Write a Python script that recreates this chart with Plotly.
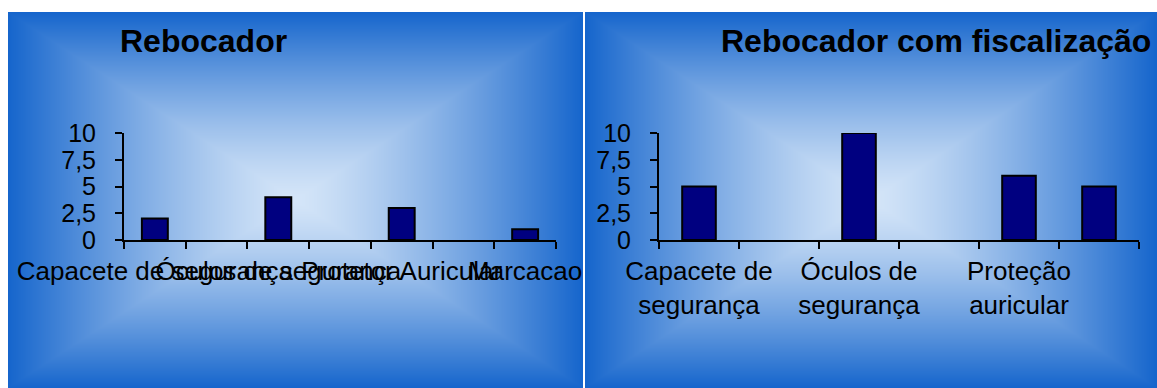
import base64
import struct
import zlib

import numpy as np
import plotly.graph_objects as go

# ---------------- data ----------------
left_title = "Rebocador"
left_categories = ["Capacete de segurança", " ", "Óculos de segurança", "  ",
                   "Protetor Auricular", "   ", "Marcacao"]
left_values = [2, None, 4, None, 3, None, 1]

right_title = "Rebocador com fiscalização"
right_categories = ["Capacete de<br>segurança", " ", "Óculos de<br>segurança", "  ",
                    "Proteção<br>auricular", "Marcação"]
right_values = [5, None, 10, None, 6, 5]

y_ticks = [0, 2.5, 5, 7.5, 10]

# ---------------- background (box gradient panels) ----------------
W, H = 1157, 388
EDGE = np.array([21, 101, 204], dtype=float)
CENTER = np.array([212, 229, 248], dtype=float)
GAMMA = 1.3

img = np.full((H, W, 3), 255.0)


def paint_panel(x0, x1, y0, y1):
    cx, cy = (x0 + x1) / 2.0, (y0 + y1) / 2.0
    xs = np.arange(x0, x1) + 0.5
    ys = np.arange(y0, y1) + 0.5
    X, Y = np.meshgrid(xs, ys)
    t = np.maximum(np.abs(X - cx) / ((x1 - x0) / 2.0), np.abs(Y - cy) / ((y1 - y0) / 2.0))
    t = np.clip(t, 0, 1) ** GAMMA
    img[y0:y1, x0:x1] = CENTER * (1 - t)[..., None] + EDGE * t[..., None]


paint_panel(8, 583, 12, 388)
paint_panel(585, 1157, 12, 388)
arr = np.clip(np.round(img), 0, 255).astype(np.uint8)


def png_bytes(a):
    h, w, _ = a.shape
    raw = b"".join(b"\x00" + a[r].tobytes() for r in range(h))

    def chunk(tag, data):
        return (struct.pack(">I", len(data)) + tag + data
                + struct.pack(">I", zlib.crc32(tag + data) & 0xFFFFFFFF))

    return (b"\x89PNG\r\n\x1a\n"
            + chunk(b"IHDR", struct.pack(">IIBBBBB", w, h, 8, 2, 0, 0, 0))
            + chunk(b"IDAT", zlib.compress(raw, 9))
            + chunk(b"IEND", b""))


bg_src = "data:image/png;base64," + base64.b64encode(png_bytes(arr)).decode()

# ---------------- figure ----------------
FONT = "Liberation Sans, Arial, sans-serif"
fig = go.Figure()

bar_style = dict(marker=dict(color="#000080", line=dict(color="black", width=2)),
                 showlegend=False, hoverinfo="x+y")
fig.add_trace(go.Bar(x=left_categories, y=left_values, xaxis="x", yaxis="y", **bar_style))
fig.add_trace(go.Bar(x=right_categories, y=right_values, xaxis="x2", yaxis="y2", **bar_style))

y_dom = [(388 - 240) / 388, (388 - 133) / 388]
xax = dict(showline=True, linecolor="black", linewidth=2, ticks="outside", ticklen=7,
           tickwidth=2, tickcolor="black", tickangle=0, tickson="boundaries",
           ticklabelstep=2, showgrid=False, zeroline=False, ticklabelstandoff=7,
           tickfont=dict(family=FONT, size=26, color="black"))
yax = dict(range=[0, 10], tickvals=y_ticks, showline=True, linecolor="black", linewidth=2,
           ticks="outside", ticklen=7, tickwidth=2, tickcolor="black", showgrid=False,
           zeroline=False, ticklabelstandoff=14,
           tickfont=dict(family=FONT, size=25, color="black"))

fig.update_layout(
    width=W, height=H, margin=dict(l=0, r=0, t=0, b=0),
    template="none", separators=",.",
    paper_bgcolor="white", plot_bgcolor="rgba(0,0,0,0)",
    bargap=0.58,
    xaxis=dict(domain=[124 / W, 556 / W], anchor="y", **xax),
    yaxis=dict(domain=y_dom, anchor="x", **yax),
    xaxis2=dict(domain=[659 / W, 1139 / W], anchor="y2", **xax),
    yaxis2=dict(domain=y_dom, anchor="x2", **yax),
    images=[dict(source=bg_src, xref="paper", yref="paper", x=0, y=1, sizex=1, sizey=1,
                 sizing="stretch", xanchor="left", yanchor="top", layer="below")],
    annotations=[
        dict(text="<b>%s</b>" % left_title, xref="paper", yref="paper", x=203 / W,
             y=1 - 41 / H, xanchor="center", yanchor="middle", showarrow=False,
             font=dict(family=FONT, size=32, color="black")),
        dict(text="<b>%s</b>" % right_title, xref="paper", yref="paper", x=936 / W,
             y=1 - 41 / H, xanchor="center", yanchor="middle", showarrow=False,
             font=dict(family=FONT, size=32, color="black")),
    ],
)

fig.write_html("out.html")
